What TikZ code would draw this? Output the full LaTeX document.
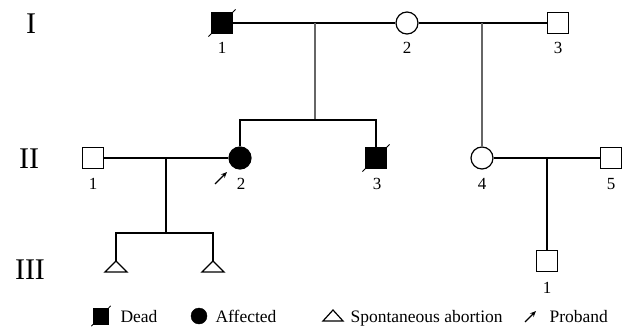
\documentclass[tikz,border=0pt]{standalone}
\usepackage{fontspec}
\setmainfont{Liberation Serif}
\usetikzlibrary{arrows.meta}
% diagonal stroke through a deceased individual's symbol
\newcommand\deadmark[2][2.5pt]{%
  \draw[line width=0.8pt] ([shift={(-#1,-#1)}]#2.south west) -- ([shift={(#1,#1)}]#2.north east);}
\begin{document}
\begin{tikzpicture}[x=1pt,y=-1pt,
  male/.style={draw, rectangle, minimum size=21pt, inner sep=0pt, line width=1.2pt, fill=white},
  female/.style={draw, circle, minimum size=22pt, inner sep=0pt, line width=1.2pt, fill=white},
  filled/.style={fill=black},
  mate/.style={line width=1.5pt},
  descent/.style={line width=1.1pt, black!60},
  kin/.style={line width=1.4pt},
  heavykin/.style={line width=2.3pt},
  idlabel/.style={font=\fontsize{17}{17}\selectfont, anchor=base},
  gen/.style={font=\fontsize{30}{30}\selectfont, anchor=base},
  legtext/.style={font=\fontsize{17.5}{18}\selectfont, anchor=base west},
  probandarrow/.style={-{Stealth[length=6pt,width=5pt]}, line width=1.1pt}
]
\useasboundingbox (0,0) rectangle (631,329);

% generation numerals
\node[gen] (gI)   at (31,34)  {I};
\node[gen] (gII)  at (29,168) {II};
\node[gen] (gIII) at (30,279) {III};

% generation I
\node[male, filled] (I1) at (222,23) {};
\node[female] (I2) at (407,23) {};
\node[male] (I3) at (558,23) {};
\deadmark{I1}

% generation II
\node[male] (II1) at (93,158) {};
\node[female, filled] (II2) at (240,158) {};
\node[male, filled] (II3) at (376,158) {};
\node[female] (II4) at (482,158) {};
\node[male] (II5) at (611,158) {};
\deadmark{II3}

% generation III
\node[male] (III1) at (547,261) {};
\coordinate (III2) at (116,261);
\coordinate (III3) at (213,261);

% individual numbers
\node[idlabel] (lI1) at (222,54) {1};
\node[idlabel] (lI2) at (407,54) {2};
\node[idlabel] (lI3) at (558,54) {3};
\node[idlabel] (lII1) at (93,189) {1};
\node[idlabel] (lII2) at (241,189) {2};
\node[idlabel] (lII3) at (377,189) {3};
\node[idlabel] (lII4) at (482,189) {4};
\node[idlabel] (lII5) at (611,189) {5};
\node[idlabel] (lIII1) at (547,293) {1};

% matings
\draw[mate] (I1.east) -- (I2.west);
\draw[mate] (I2.east) -- (I3.west);
\draw[mate] (II1.east) -- (II2.west);
\draw[mate] (II4.east) -- (II5.west);

% line of descent from I-1 x I-2
\coordinate (m1) at (315,23);
\coordinate (s1) at (315,120);
\draw[descent] (m1) -- (s1);
\draw[kin, line width=1.2pt] (II2.north) |- (s1) -| (II3.north);

% line of descent from I-2 x I-3
\coordinate (m2) at (482,23);
\draw[descent] (m2) -- (II4.north);

% offspring of II-1 x II-2: two spontaneous abortions
\coordinate (m3) at (166,158);
\coordinate (s3) at (166,233);
\draw[kin] (m3) -- (s3);
\draw[kin] (III2) |- (s3) -| (III3);
\draw[kin] (III2) -- ++(-11,11) -- ++(22,0) -- cycle;
\draw[kin] (III3) -- ++(-11,11) -- ++(22,0) -- cycle;

% offspring of II-4 x II-5
\coordinate (m4) at (547,158);
\draw[heavykin] (m4) -- (III1.north);

% proband
\coordinate (pb) at (215,184);
\draw[probandarrow] (pb) -- ++(12,-12);

% legend
\node[draw, rectangle, filled, minimum width=15pt, minimum height=16pt, inner sep=0pt] (kDead) at (101,316) {};
\deadmark[2pt]{kDead}
\node[legtext] (tDead) at (117,322) {Dead};
\node[draw, circle, filled, minimum size=16pt, inner sep=0pt] (kAff) at (199,316) {};
\node[legtext] (tAff) at (212,322) {Affected};
\coordinate (kSA) at (333,310);
\draw[line width=1.2pt] (kSA) -- ++(-10,11) -- ++(20,0) -- cycle;
\node[legtext] (tSA) at (347,322) {Spontaneous abortion};
\coordinate (kPb) at (525,322);
\draw[probandarrow] (kPb) -- ++(11,-11);
\node[legtext] (tPb) at (546,322) {Proband};
\end{tikzpicture}
\end{document}
